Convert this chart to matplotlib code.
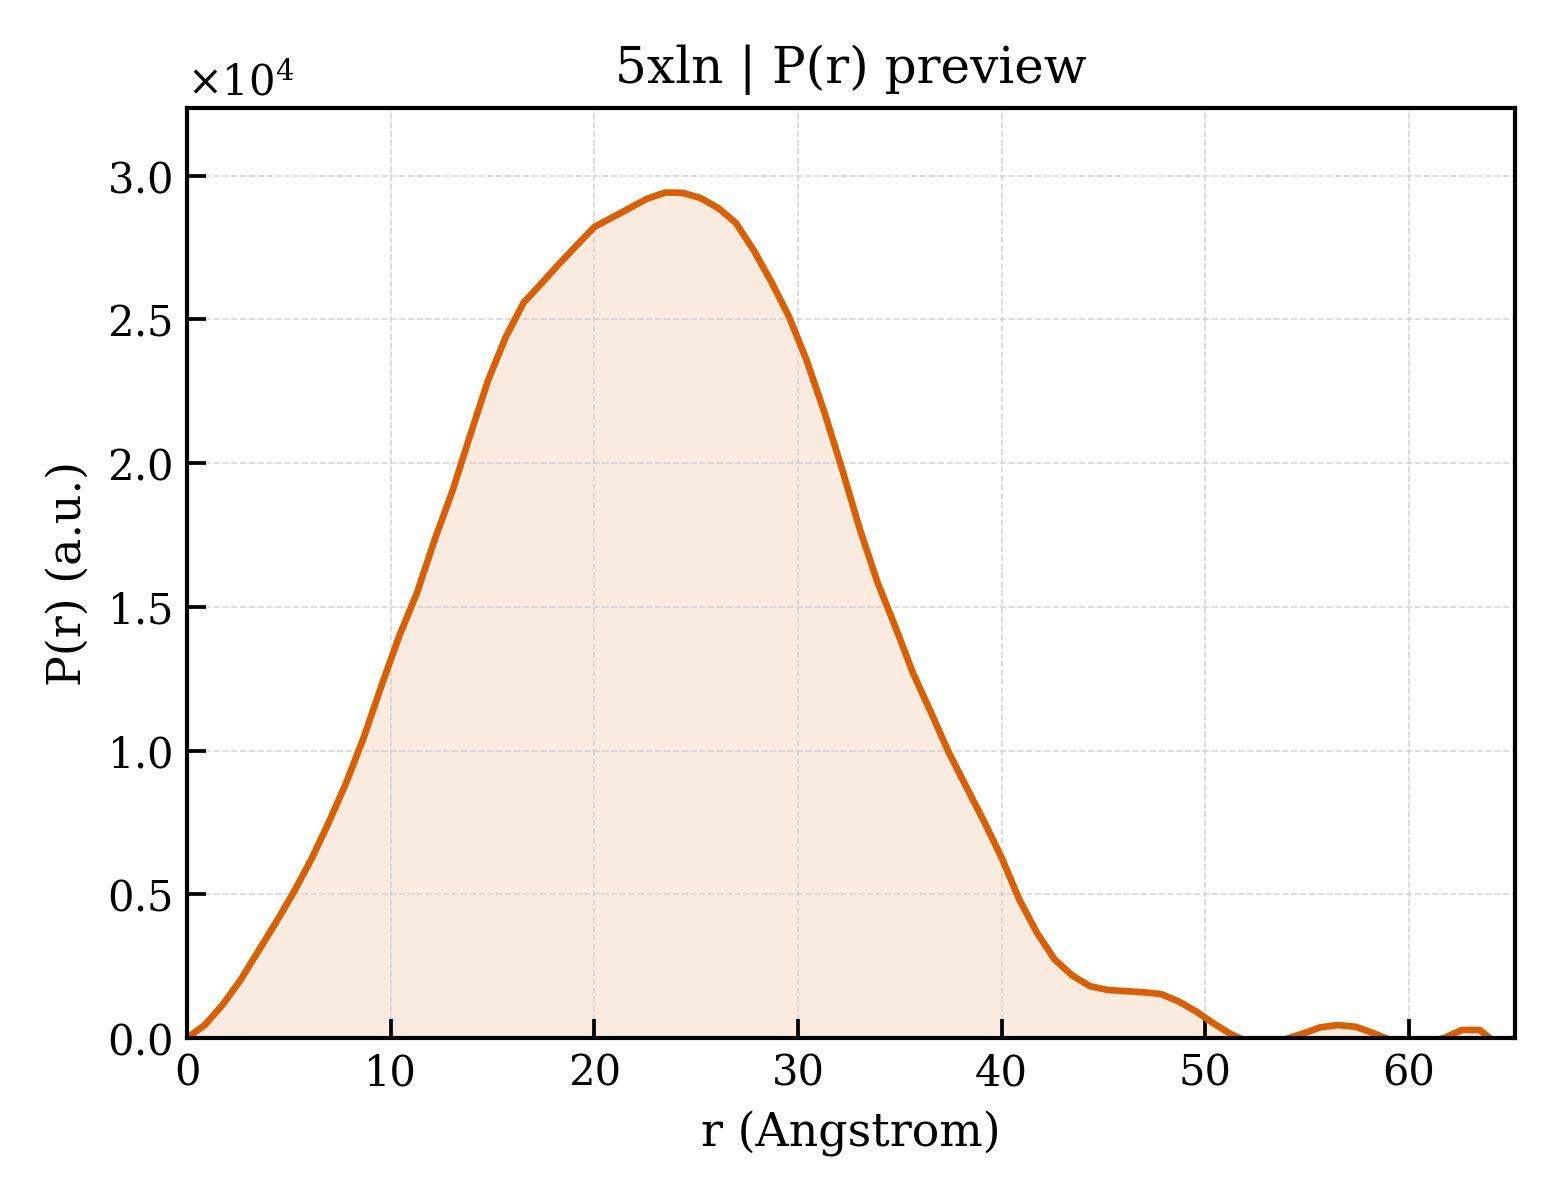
import numpy as np
import matplotlib
matplotlib.use("Agg")
import matplotlib.pyplot as plt

plt.rcParams['font.family'] = ['DejaVu Serif']
plt.rcParams['mathtext.fontset'] = 'dejavuserif'

# pair distance grid (Angstrom), step
r_vals = [0.00, 0.87, 1.74, 2.61, 3.48, 4.35, 5.22, 6.09, 6.96, 7.83,
          8.70, 9.57, 10.43, 11.30, 12.17, 13.04, 13.91, 14.78, 15.65, 16.52,
          17.39, 18.26, 19.13, 20.00, 20.87, 21.74, 22.61, 23.48, 24.35, 25.22,
          26.09, 26.96, 27.83, 28.70, 29.57, 30.43, 31.30, 32.17, 33.04, 33.91,
          34.78, 35.65, 36.52, 37.39, 38.26, 39.13, 40.00, 40.87, 41.74, 42.61,
          43.48, 44.35, 45.22, 46.09, 46.96, 47.83, 48.70, 49.57, 50.43, 51.30,
          52.17, 53.04, 53.91, 54.78, 55.65, 56.52, 57.39, 58.26, 59.13, 60.00,
          60.87, 61.74, 62.61, 63.48, 64.35, 65.22]

# P(r) in units of 1e4
p_vals = [0.000, 0.045, 0.115, 0.200, 0.300, 0.400, 0.505, 0.620, 0.750, 0.890,
          1.050, 1.230, 1.400, 1.550, 1.735, 1.904, 2.098, 2.287, 2.438, 2.557,
          2.624, 2.692, 2.757, 2.821, 2.854, 2.887, 2.920, 2.941, 2.940, 2.922,
          2.887, 2.835, 2.740, 2.630, 2.508, 2.357, 2.177, 1.979, 1.770, 1.585,
          1.431, 1.270, 1.135, 0.996, 0.875, 0.755, 0.628, 0.482, 0.366, 0.273,
          0.217, 0.180, 0.167, 0.163, 0.159, 0.153, 0.127, 0.092, 0.050, 0.012,
          -0.015, -0.020, -0.005, 0.015, 0.037, 0.045, 0.039, 0.017, -0.008, -0.020,
          -0.015, 0.000, 0.028, 0.028, -0.021, 0.000]

r = np.array(r_vals)
p = np.array(p_vals) * 1e4

color = '#D95F02'

fig, ax = plt.subplots(figsize=(5.2, 4), dpi=300)
fig.subplots_adjust(left=0.1199, right=0.9712, top=0.91, bottom=0.135)

ax.fill_between(r, p, 0, color=color, alpha=0.12, linewidth=0)
ax.plot(r, p, color=color, linewidth=1.6)

ax.set_xlim(0, r.max())
ax.set_ylim(0, 1.1 * p.max())
ax.set_xlabel('r (Angstrom)', fontsize=11)
ax.set_ylabel('P(r) (a.u.)', fontsize=11)
ax.set_title('5xln | P(r) preview', fontsize=12)

ax.ticklabel_format(axis='y', style='sci', scilimits=(0, 0), useMathText=True)
ax.yaxis.get_offset_text().set_fontsize(10)
ax.tick_params(direction='in', labelsize=10, length=4.5, width=0.9)
ax.grid(True, linestyle='--', linewidth=0.4, color='#cccccc', alpha=0.8)
for s in ax.spines.values():
    s.set_linewidth(1.0)

plt.savefig('out.png', dpi=300)
